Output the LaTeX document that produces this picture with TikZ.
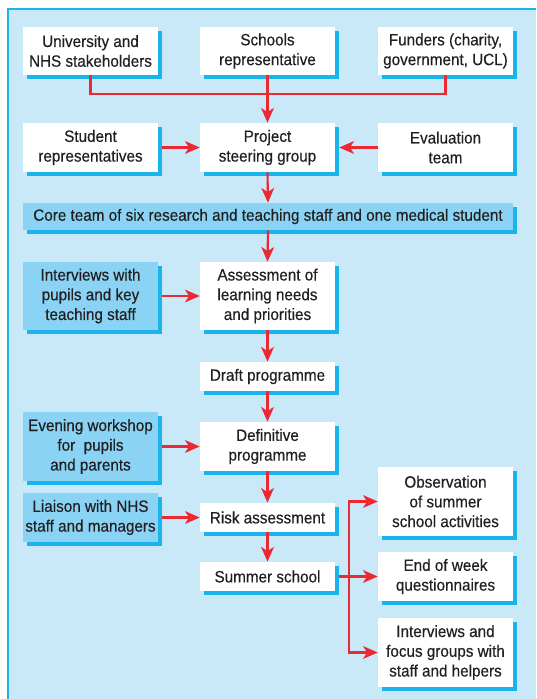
\documentclass[tikz,border=0pt]{standalone}
\usepackage{fontspec}
\setmainfont{Liberation Sans}[FakeStretch=0.93,FakeBold=0.35]
\usetikzlibrary{arrows.meta,shadows}
\definecolor{paneblue}{HTML}{C9E9F9}
\definecolor{edgecyan}{HTML}{1BB3EC}
\definecolor{boxblue}{HTML}{8AD3F4}
\definecolor{flowred}{HTML}{EC2833}
\definecolor{ink}{HTML}{231F20}
\begin{document}
\begin{tikzpicture}[x=0.75pt,y=-0.75pt,
  font=\fontsize{12.3pt}{14.8pt}\selectfont,
  base/.style={inner sep=0pt, align=center, text=ink, minimum width=101.25pt,
    general shadow={fill=edgecyan, shadow xshift=3pt, shadow yshift=-3pt}},
  wbox/.style={base, fill=white},
  bbox/.style={base, fill=boxblue},
  link/.style={draw=flowred, line width=1.6pt},
  arr/.style={link, -{Stealth[length=11pt,width=9.5pt,inset=3pt]}}]
\useasboundingbox (0,0) rectangle (536,699);
% panel
\fill[paneblue] (8,9) rectangle (536,699);
\draw[edgecyan, line width=1.2pt] (8,699) -- (8,9) -- (536,9);

% top row
\node[wbox, minimum height=36pt] (univ) at (90.5,51) {University and\\NHS stakeholders};
\node[wbox, minimum height=36pt] (schools) at (267.5,51) {Schools\\representative};
\node[wbox, minimum height=36pt] (funders) at (445.5,51) {Funders (charity,\\government, UCL)};
% second row
\node[wbox, minimum height=36.75pt] (student) at (90.5,147.5) {Student\\representatives};
\node[wbox, minimum height=36.75pt] (steer) at (267.5,147.5) {Project\\steering group};
\node[wbox, minimum height=36.75pt] (evalteam) at (445.5,147.5) {Evaluation\\team};
% core team
\node[bbox, minimum width=367.5pt, minimum height=20.25pt] (core) at (268,216.5) {Core team of six research and teaching staff and one medical student};
% main column
\node[bbox, minimum height=51pt] (interv) at (90.5,296) {Interviews with\\pupils and key\\teaching staff};
\node[wbox, minimum height=51pt] (assess) at (267.5,296) {Assessment of\\learning needs\\and priorities};
\node[wbox, minimum height=21.75pt] (draft) at (267.5,376.5) {Draft programme};
\node[bbox, minimum height=51.75pt] (evening) at (90.5,446.5) {Evening workshop\\for\ \ pupils\\and parents};
\node[wbox, minimum height=36.75pt] (defin) at (267.5,446.5) {Definitive\\programme};
\node[bbox, minimum height=36.75pt] (liaison) at (90.5,517.5) {Liaison with NHS\\staff and managers};
\node[wbox, minimum height=21.75pt] (risk) at (267.5,517.5) {Risk assessment};
\node[wbox, minimum height=21.75pt] (summer) at (267.5,576.5) {Summer school};
% evaluation outputs
\node[wbox, minimum height=51.75pt] (observ) at (445.5,501.5) {Observation\\of summer\\school activities};
\node[wbox, minimum height=36.75pt] (endweek) at (445.5,576.5) {End of week\\questionnaires};
\node[wbox, minimum height=51.75pt] (focus) at (445.5,652.5) {Interviews and\\focus groups with\\staff and helpers};

% stakeholders feed the steering group
\coordinate (join) at (267.5,94);
\draw[link] (univ.south) |- (join) -| (funders.south);
\draw[arr] (schools.south) -- (steer.north);
\draw[arr] ([xshift=3pt]student.east) -- (steer.west);
\draw[arr] (evalteam.west) -- ([xshift=3pt]steer.east);
\draw[arr] (steer.south) -- (core.north);
\draw[arr] (core.south) -- (assess.north);
\draw[arr] ([xshift=3pt]interv.east) -- (assess.west);
\draw[arr] (assess.south) -- (draft.north);
\draw[arr] (draft.south) -- (defin.north);
\draw[arr] ([xshift=3pt]evening.east) -- (defin.west);
\draw[arr] (defin.south) -- (risk.north);
\draw[arr] ([xshift=3pt]liaison.east) -- (risk.west);
\draw[arr] (risk.south) -- (summer.north);
% summer school branches to the three evaluation strands
\coordinate (fork) at (349,576.5);
\draw[link] ([xshift=3pt]summer.east) -- (fork);
\draw[arr] (fork) |- (observ.west);
\draw[arr] (fork) -- (endweek.west);
\draw[arr] (fork) |- (focus.west);
\end{tikzpicture}
\end{document}
